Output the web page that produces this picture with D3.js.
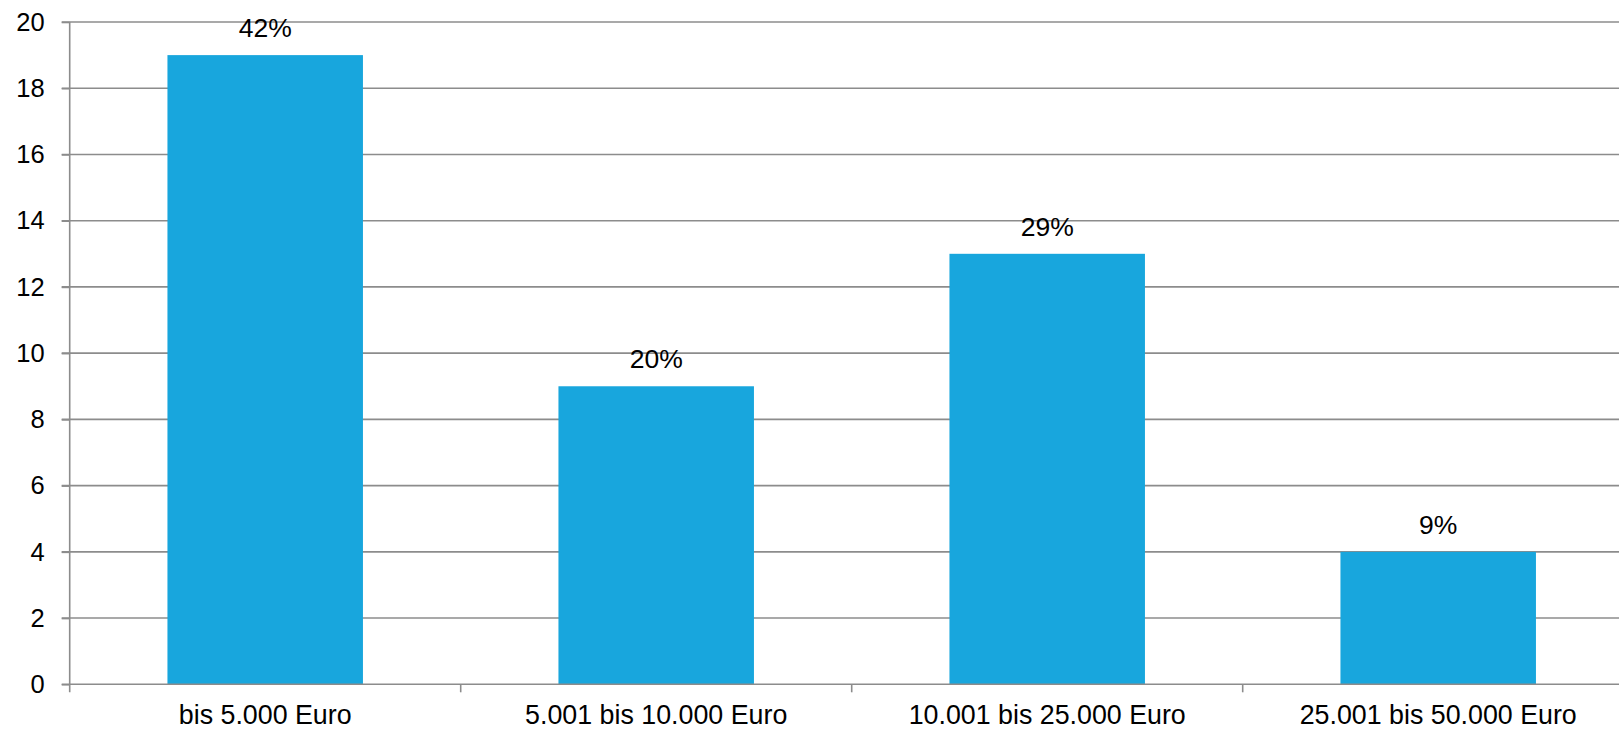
<!DOCTYPE html>
<html>
<head>
<meta charset="utf-8">
<script src="https://cdn.jsdelivr.net/npm/d3@7"></script>
<style>
  html, body { margin: 0; padding: 0; background: #fff; }
  svg { display: block; }
  text { font-family: "Liberation Sans", Arial, Helvetica, sans-serif; fill: #000; }
</style>
</head>
<body>
<svg id="chart" width="1619" height="729"></svg>
<script>
const categories = ["bis 5.000 Euro", "5.001 bis 10.000 Euro", "10.001 bis 25.000 Euro", "25.001 bis 50.000 Euro"];
const values = [19, 9, 13, 4];
const shareLabels = ["42%", "20%", "29%", "9%"];
const yTicks = [0, 2, 4, 6, 8, 10, 12, 14, 16, 18, 20];

(function () {
const svg = d3.select("#chart");
const W = 1619;
const plotLeft = 69.7, plotTop = 22, plotBottom = 684.3;
const step = 391;
const plotRight = plotLeft + step * categories.length;

const x = d3.scaleBand().domain(categories).range([plotLeft, plotRight]).paddingInner(0.5).paddingOuter(0.25);
const y = d3.scaleLinear().domain([0, 20]).range([plotBottom, plotTop]);

const gridColor = "#8c8c8c";

// gridlines
svg.append("g").selectAll("line").data(yTicks.filter(d => d > 0)).join("line")
  .attr("x1", plotLeft - 8).attr("x2", W)
  .attr("y1", d => y(d)).attr("y2", d => y(d))
  .attr("stroke", gridColor).attr("stroke-width", 1.6);

// bars
svg.append("g").selectAll("rect").data(values).join("rect")
  .attr("x", (d, i) => x(categories[i]))
  .attr("width", x.bandwidth())
  .attr("y", d => y(d))
  .attr("height", d => y(0) - y(d))
  .attr("fill", "#18A6DD");

// y axis
const yAxis = d3.axisLeft(y).tickValues(yTicks).tickSize(8).tickPadding(17).tickSizeOuter(0);
const gy = svg.append("g").attr("transform", `translate(${plotLeft},0)`).call(yAxis);
gy.select(".domain").remove();
gy.selectAll(".tick line").attr("stroke", gridColor).attr("stroke-width", 1.6);
gy.selectAll(".tick text").attr("font-size", 25.5).attr("font-family", "Liberation Sans, Arial, sans-serif").attr("fill", "#000");

// y axis vertical line
svg.append("line").attr("x1", plotLeft).attr("x2", plotLeft).attr("y1", plotTop).attr("y2", plotBottom + 8)
  .attr("stroke", gridColor).attr("stroke-width", 1.6);

// x axis baseline
svg.append("line").attr("x1", plotLeft - 8).attr("x2", W).attr("y1", plotBottom).attr("y2", plotBottom)
  .attr("stroke", gridColor).attr("stroke-width", 1.6);

// category ticks at band boundaries
const boundaries = d3.range(1, categories.length).map(i => plotLeft + i * x.step());
svg.append("g").selectAll("line").data(boundaries).join("line")
  .attr("x1", d => d).attr("x2", d => d).attr("y1", plotBottom).attr("y2", plotBottom + 8)
  .attr("stroke", gridColor).attr("stroke-width", 1.6);

// category labels
svg.append("g").selectAll("text").data(categories).join("text")
  .attr("x", d => x(d) + x.bandwidth() / 2)
  .attr("y", plotBottom + 40)
  .attr("text-anchor", "middle")
  .attr("font-size", 26.8)
  .text(d => d);

// value labels
svg.append("g").selectAll("text").data(values).join("text")
  .attr("x", (d, i) => x(categories[i]) + x.bandwidth() / 2)
  .attr("y", d => y(d) - 18)
  .attr("text-anchor", "middle")
  .attr("font-size", 26.5)
  .text((d, i) => shareLabels[i]);
})();
</script>
</body>
</html>
